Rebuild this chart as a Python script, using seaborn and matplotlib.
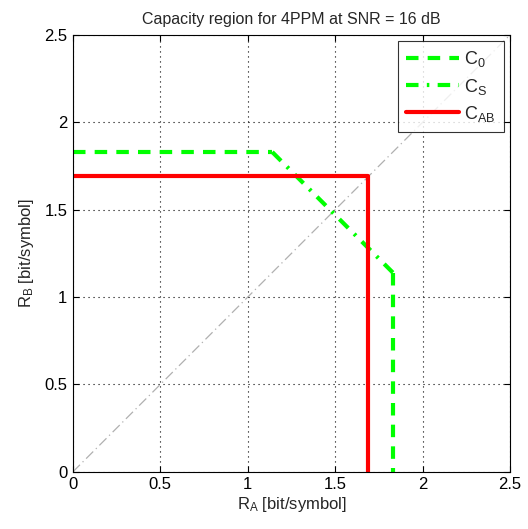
import matplotlib
matplotlib.use("Agg")
import matplotlib.pyplot as plt
import seaborn as sns
import pandas as pd

# Data
c0_ra = [0.0, 1.14, 1.83, 1.83]
c0_rb = [1.83, 1.83, 1.14, 0.0]
c0_seg = [0, 0, 1, 1]
cs_ra = [1.14, 1.83]
cs_rb = [1.83, 1.14]
cab_ra = [0.0, 1.69, 1.69]
cab_rb = [1.69, 1.69, 0.0]
diag = [0.0, 2.5]
ticks = [0, 0.5, 1, 1.5, 2, 2.5]
tick_labels = ["0", "0.5", "1", "1.5", "2", "2.5"]

sns.set_style("white")
plt.rcParams['font.family'] = ['Liberation Sans', 'DejaVu Sans']
plt.rcParams['mathtext.fontset'] = 'custom'
plt.rcParams['mathtext.rm'] = 'Liberation Sans'

fig = plt.figure(figsize=(5.28, 5.29), dpi=100)
ax = fig.add_axes([0.138, 0.108, 0.828, 0.826])

kw = dict(ax=ax, sort=False, estimator=None, errorbar=None)

df_diag = pd.DataFrame({"x": diag, "y": diag})
sns.lineplot(data=df_diag, x="x", y="y", color="#b0b0b0",
             lw=0.9, linestyle=(0, (8, 3, 1, 3)), legend=False, **kw)

df0 = pd.DataFrame({"x": c0_ra, "y": c0_rb, "seg": c0_seg})
sns.lineplot(data=df0, x="x", y="y", units="seg", color="#00ff00",
             lw=3, linestyle=(0, (3, 2.2)), label=r"C$\mathregular{_0}$", **kw)
dfs = pd.DataFrame({"x": cs_ra, "y": cs_rb})
sns.lineplot(data=dfs, x="x", y="y", color="#00ff00",
             lw=3, linestyle=(0, (3, 2, 0.6, 2)), label=r"C$\mathregular{_S}$", **kw)
dfab = pd.DataFrame({"x": cab_ra, "y": cab_rb})
sns.lineplot(data=dfab, x="x", y="y", color="#ff0000",
             lw=3, label=r"C$\mathregular{_{AB}}$", **kw)

ax.set_xlim(0, 2.5)
ax.set_ylim(0, 2.5)
ax.set_xticks(ticks)
ax.set_yticks(ticks)
ax.set_xticklabels(tick_labels, fontsize=12)
ax.set_yticklabels(tick_labels, fontsize=12)
ax.tick_params(direction="in", length=4, width=0.8, colors="black", top=True, right=True,
               bottom=True, left=True, pad=4)
ax.grid(True, color="black", linestyle=(0, (1, 3.5)), linewidth=0.8)
for s in ax.spines.values():
    s.set_color("black")
    s.set_linewidth(0.8)

ax.set_xlabel(r"$\mathregular{R_A}$ [bit/symbol]", fontsize=12, labelpad=2)
ax.set_ylabel(r"$\mathregular{R_B}$ [bit/symbol]", fontsize=12, labelpad=6)
ax.set_title("Capacity region for 4PPM at SNR = 16 dB", fontsize=11.5, pad=8)

handles, labels = ax.get_legend_handles_labels()
uh, ul = [], []
for h, l in zip(handles, labels):
    if l not in ul:
        uh.append(h)
        ul.append(l)
leg = ax.legend(uh, ul, loc="upper right", fontsize=13, frameon=True, fancybox=False,
                edgecolor="black", handlelength=2.9, borderpad=0.45, labelspacing=0.4,
                handletextpad=0.3, borderaxespad=0.35)
leg.get_frame().set_linewidth(0.8)

fig.savefig("out.png", dpi=100)
